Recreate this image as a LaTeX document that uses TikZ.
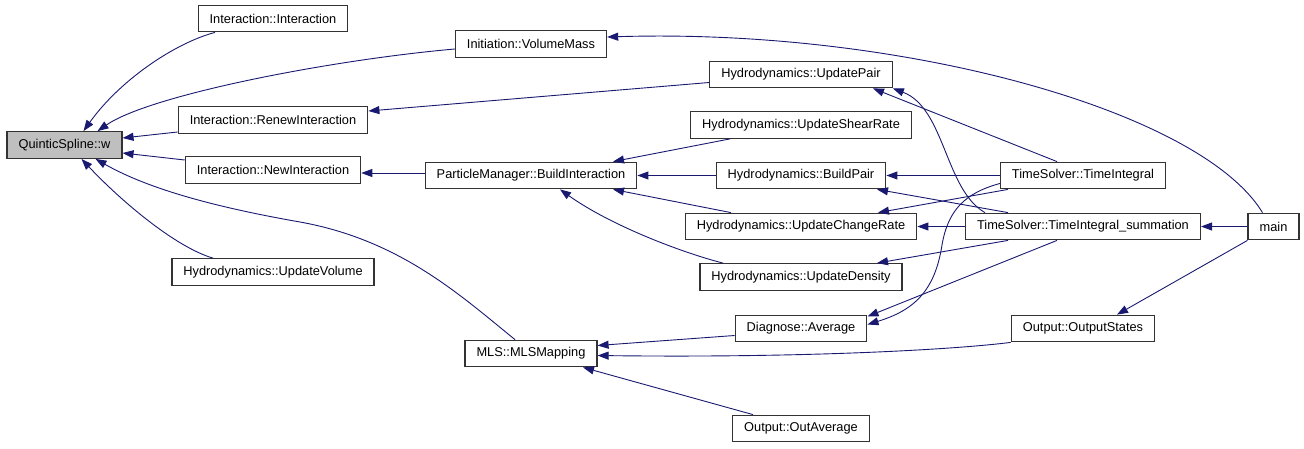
\documentclass[tikz,border=0pt]{standalone}
\usepackage{fontspec}
\setmainfont{Liberation Sans}
\usepackage{tikz}
\usetikzlibrary{arrows.meta,positioning,calc}
\usepackage{xcolor}
\definecolor{edgeblue}{HTML}{191970}
\definecolor{boxgray}{HTML}{BFBFBF}
\tikzset{
  fn/.style   ={draw=black!80,line width=1.3pt,fill=white,minimum height=26.5pt,
                inner xsep=11.5pt,inner ysep=0pt,font=\fontsize{12.8}{15}\selectfont},
  cur/.style  ={fn,fill=boxgray},
  calls/.style={draw=edgeblue,line width=0.9pt,
                -{Triangle[length=11pt,width=8pt,fill=edgeblue]}},
}

\begin{document}
\begin{tikzpicture}[x=1pt,y=-1pt]
  \useasboundingbox (0,0) rectangle (1304,448);
  \node [cur] (qs)   at (64.5,145)   {QuinticSpline::w};
  \node [fn]  (ii)   at (273,18.5)   {Interaction::Interaction};
  \node [fn]  (iri)  at (273,120)    {Interaction::RenewInteraction};
  \node [fn]  (ini)  at (273,170)    {Interaction::NewInteraction};
  \node [fn]  (huv)  at (273,272)    {Hydrodynamics::UpdateVolume};
  \node [fn]  (ivm)  at (531,44)     {Initiation::VolumeMass};
  \node [fn]  (pmbi) at (531,175.5)  {ParticleManager::BuildInteraction};
  \node [fn]  (mls)  at (531,353.5)  {MLS::MLSMapping};
  \node [fn]  (hup)  at (801,74.5)   {Hydrodynamics::UpdatePair};
  \node [fn]  (husr) at (801,125)    {Hydrodynamics::UpdateShearRate};
  \node [fn]  (hbp)  at (801,175.5)  {Hydrodynamics::BuildPair};
  \node [fn]  (hucr) at (801,226.5)  {Hydrodynamics::UpdateChangeRate};
  \node [fn]  (hud)  at (801,277)    {Hydrodynamics::UpdateDensity};
  \node [fn]  (da)   at (801,328.5)  {Diagnose::Average};
  \node [fn]  (ooa)  at (801,428.5)  {Output::OutAverage};
  \node [fn]  (tsti) at (1083,175.5) {TimeSolver::TimeIntegral};
  \node [fn]  (tsts) at (1083,226.5) {TimeSolver::TimeIntegral\_summation};
  \node [fn]  (oos)  at (1083,328.5) {Output::OutputStates};
  \node [fn]  (main) at (1273.5,226.5) {main};

  \draw[calls] ([xshift=-58pt]ii.south) .. controls (175,43) and (120,80) .. ([xshift=19pt]qs.north);
  \draw[calls] ([yshift=-5pt]ivm.west) .. controls (330,60) and (150,95) .. ([xshift=33pt]qs.north);
  \draw[calls] ([yshift=-12pt]iri.west) -- ([yshift=7pt]qs.east);
  \draw[calls] ([yshift=10pt]ini.west) -- ([yshift=-8pt]qs.east);
  \draw[calls] ([xshift=-60pt]huv.north) .. controls (175,247) and (120,200) .. ([xshift=17pt]qs.south);
  \draw[calls] ([xshift=-16pt]mls.north) .. controls (460,295) and (400,240) .. (300,222)
               .. controls (220,208) and (150,190) .. ([xshift=31pt]qs.south);
  \draw[calls] ([xshift=-11pt]main.north) .. controls (1200,110) and (900,28) .. ([yshift=7pt]ivm.east);
  \draw[calls] ([yshift=-8pt]hup.west) -- ([yshift=9pt]iri.east);
  \draw[calls] ([yshift=2.5pt]pmbi.west) -- ([yshift=-3pt]ini.east);
  \draw[calls] ([xshift=-71pt]husr.south) -- ([xshift=82pt]pmbi.north);
  \draw[calls] (hbp) -- (pmbi);
  \draw[calls] ([xshift=-70pt]hucr.north) -- ([xshift=82pt]pmbi.south);
  \draw[calls] ([xshift=-78pt]hud.north) .. controls (680,252) and (610,225) .. ([xshift=29pt]pmbi.south);
  \draw[calls] ([xshift=-26pt]tsti.north) -- ([xshift=72pt]hup.south);
  \draw[calls] ([xshift=-98pt]tsts.north) .. controls (945,190) and (945,108) .. (hup.south east);
  \draw[calls] (tsti) -- (hbp);
  \draw[calls] ([xshift=-75pt]tsts.north) -- ([xshift=76pt]hbp.south);
  \draw[calls] ([xshift=-75pt]tsti.south) -- ([xshift=77pt]hucr.north);
  \draw[calls] (tsts) -- (hucr);
  \draw[calls] ([xshift=-75pt]tsts.south) -- ([xshift=76pt]hud.north);
  \draw[calls] ([yshift=-8pt]tsti.west) .. controls (965,193) and (948,210) .. (942,245)
               .. controls (935,290) and (915,310) .. ([yshift=4pt]da.east);
  \draw[calls] ([xshift=-26pt]tsts.south) -- ([yshift=12pt]da.east);
  \draw[calls] ([yshift=-7pt]da.west) -- ([yshift=8pt]mls.east);
  \draw[calls] (oos.south west) .. controls (950,350) and (800,358) .. ([yshift=-2pt]mls.east);
  \draw[calls] ([xshift=-48pt]ooa.north) -- ([xshift=52pt]mls.south);
  \draw[calls] (main) -- (tsts);
  \draw[calls] (main.south west) -- ([xshift=34pt]oos.north);
\end{tikzpicture}
\end{document}
